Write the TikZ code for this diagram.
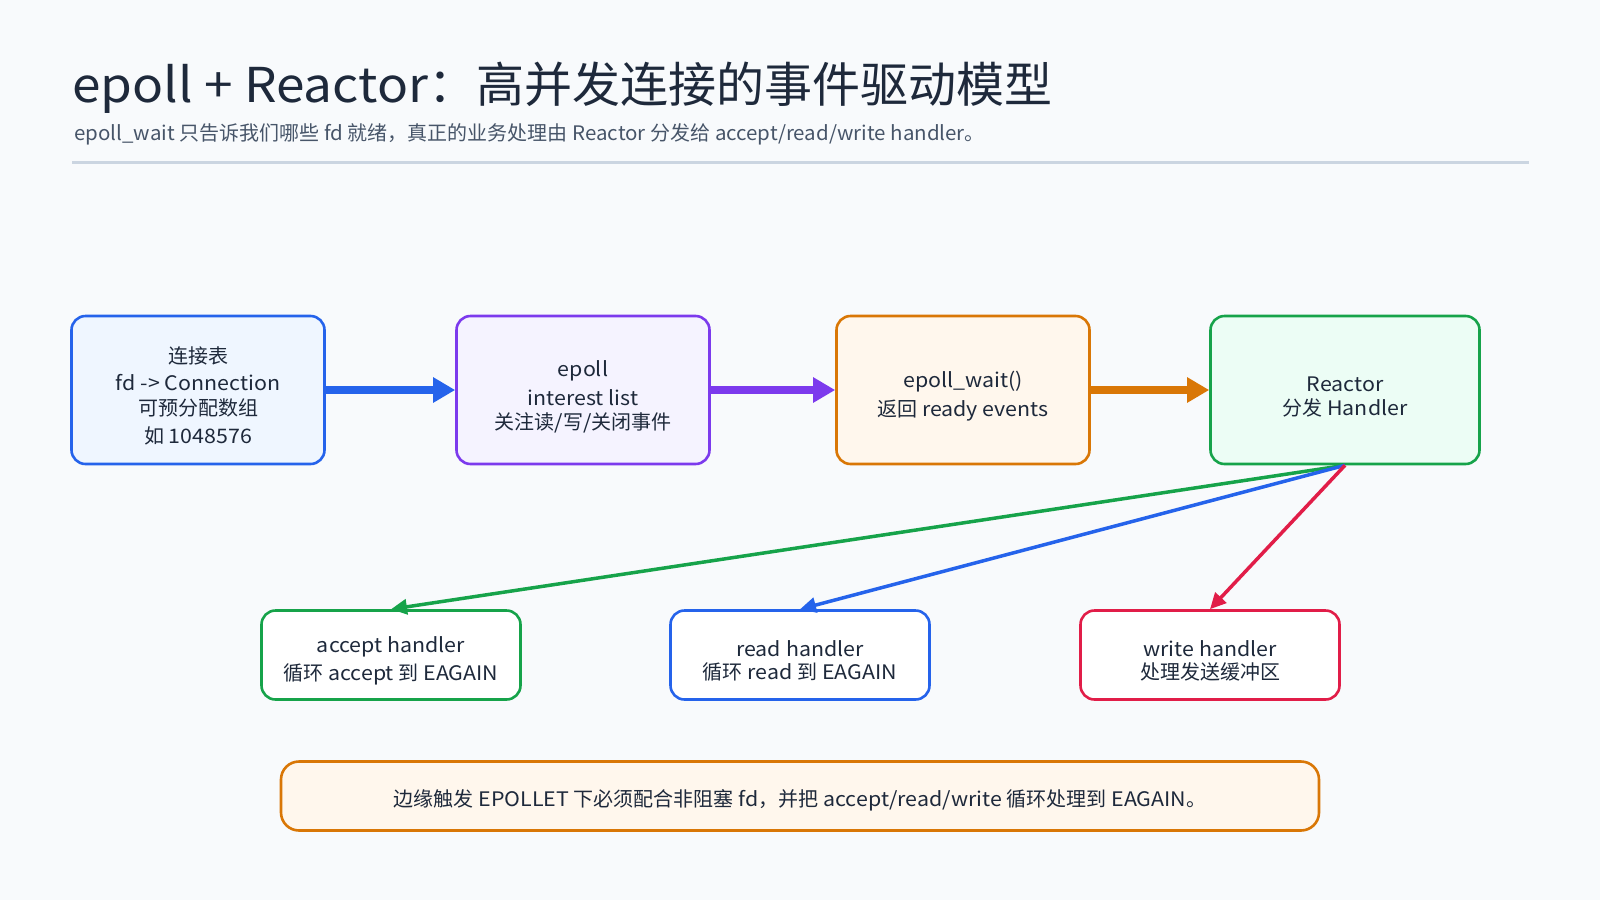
\documentclass[tikz,border=0pt]{standalone}
\usepackage{fontspec}
\setmainfont{Noto Sans CJK SC}[FakeStretch=1.07]
\newfontfamily\zhfont{Noto Sans CJK SC}
\newfontfamily\subfont{Noto Sans CJK SC}[FakeStretch=1.025]
\newcommand\z[1]{{\zhfont #1}}
\usetikzlibrary{arrows.meta}
\definecolor{bg}{HTML}{F8FAFC}
\definecolor{ink}{HTML}{1E293B}
\definecolor{sub}{HTML}{475569}
\definecolor{rule}{HTML}{CBD5E1}
\definecolor{cblue}{HTML}{2563EB}
\definecolor{fblue}{HTML}{EFF6FF}
\definecolor{cpurple}{HTML}{7C3AED}
\definecolor{fpurple}{HTML}{F5F3FF}
\definecolor{corange}{HTML}{D97706}
\definecolor{forange}{HTML}{FFF7ED}
\definecolor{cgreen}{HTML}{16A34A}
\definecolor{fgreen}{HTML}{ECFDF5}
\definecolor{cred}{HTML}{E11D48}
\tikzset{
  box/.style={draw, line width=2.6pt, rounded corners=14pt, inner sep=0pt},
  bigbox/.style={box, minimum width=253pt, minimum height=148pt},
  smallbox/.style={box, fill=white, minimum width=259pt, minimum height=89pt},
  txt/.style={align=center, text=ink, font=\fontsize{20}{26}\selectfont, inner sep=0pt},
  flow/.style={line width=8pt, -{Triangle[length=22pt,width=24pt]}},
  fan/.style={line width=3.5pt, -{Triangle[length=16pt,width=15pt]}},
}
\begin{document}
\begin{tikzpicture}[x=1pt,y=-1pt]
\useasboundingbox (0,0) rectangle (1600,900);
\fill[bg] (0,0) rectangle (1600,900);
\node[anchor=base west, inner sep=0pt, text=ink, font=\fontsize{48}{56}\selectfont] (title) at (72,102) {epoll + Reactor\z{：高并发连接的事件驱动模型}};
\node[anchor=base west, inner sep=0pt, text=sub, font=\subfont\fontsize{20}{24}\selectfont] (subtitle) at (74,140) {epoll\_wait \z{只告诉我们哪些} fd \z{就绪，真正的业务处理由} Reactor \z{分发给} accept/read/write handler\z{。}};
\draw[rule, line width=3pt] (72,162) coordinate (r1) -- (1529,162) coordinate (r2);

\node[bigbox, fill=fblue, draw=cblue] (conn) at (198,390) {};
\node[bigbox, fill=fpurple, draw=cpurple] (epoll) at (583,390) {};
\node[bigbox, fill=forange, draw=corange] (wait) at (963,390) {};
\node[bigbox, fill=fgreen, draw=cgreen, minimum width=269pt] (reactor) at (1345,390) {};

\node[txt] (conntxt) at (198,396) {\z{连接表}\\[1.5pt]fd -> Connection\\[-1.5pt]\z{可预分配数组}\\[2.5pt]\z{如} 1048576};
\node[txt] (epolltxt) at (583,397) {epoll\\[2.5pt]interest list\\[-1.5pt]\z{关注读}/\z{写}/\z{关闭事件}};
\node[txt] (waittxt) at (963,396) {epoll\_wait()\\[3.5pt]\z{返回} ready events};
\node[txt] (reactortxt) at (1345,397) {Reactor\\[-2.5pt]\z{分发} Handler};

\node[smallbox, draw=cgreen] (accept) at (391,655) {};
\node[smallbox, draw=cblue] (read) at (800,655) {};
\node[smallbox, draw=cred] (write) at (1210,655) {};
\node[txt] (accepttxt) at (391,661) {accept handler\\[2.5pt]\z{循环} accept \z{到} EAGAIN};
\node[txt] (readtxt) at (800,661) {read handler\\[-2.5pt]\z{循环} read \z{到} EAGAIN};
\node[txt] (writetxt) at (1210,661) {write handler\\[-2.5pt]\z{处理发送缓冲区}};

\node[box, fill=forange, draw=corange, minimum width=1038pt, minimum height=69pt, rounded corners=18pt] (note) at (800,796) {};
\node[txt] (notetxt) at (800,800) {\z{边缘触发} EPOLLET \z{下必须配合非阻塞} fd\z{，并把} accept/read/write \z{循环处理到} EAGAIN\z{。}};

\draw[flow, cblue] (conn.east) -- (epoll.west);
\draw[flow, cpurple] (epoll.east) -- (wait.west);
\draw[flow, corange] (wait.east) -- (reactor.west);

\draw[fan, cgreen] (reactor.south) -- (accept.north);
\draw[fan, cblue] (reactor.south) -- (read.north);
\draw[fan, cred] (reactor.south) -- (write.north);
\end{tikzpicture}
\end{document}
